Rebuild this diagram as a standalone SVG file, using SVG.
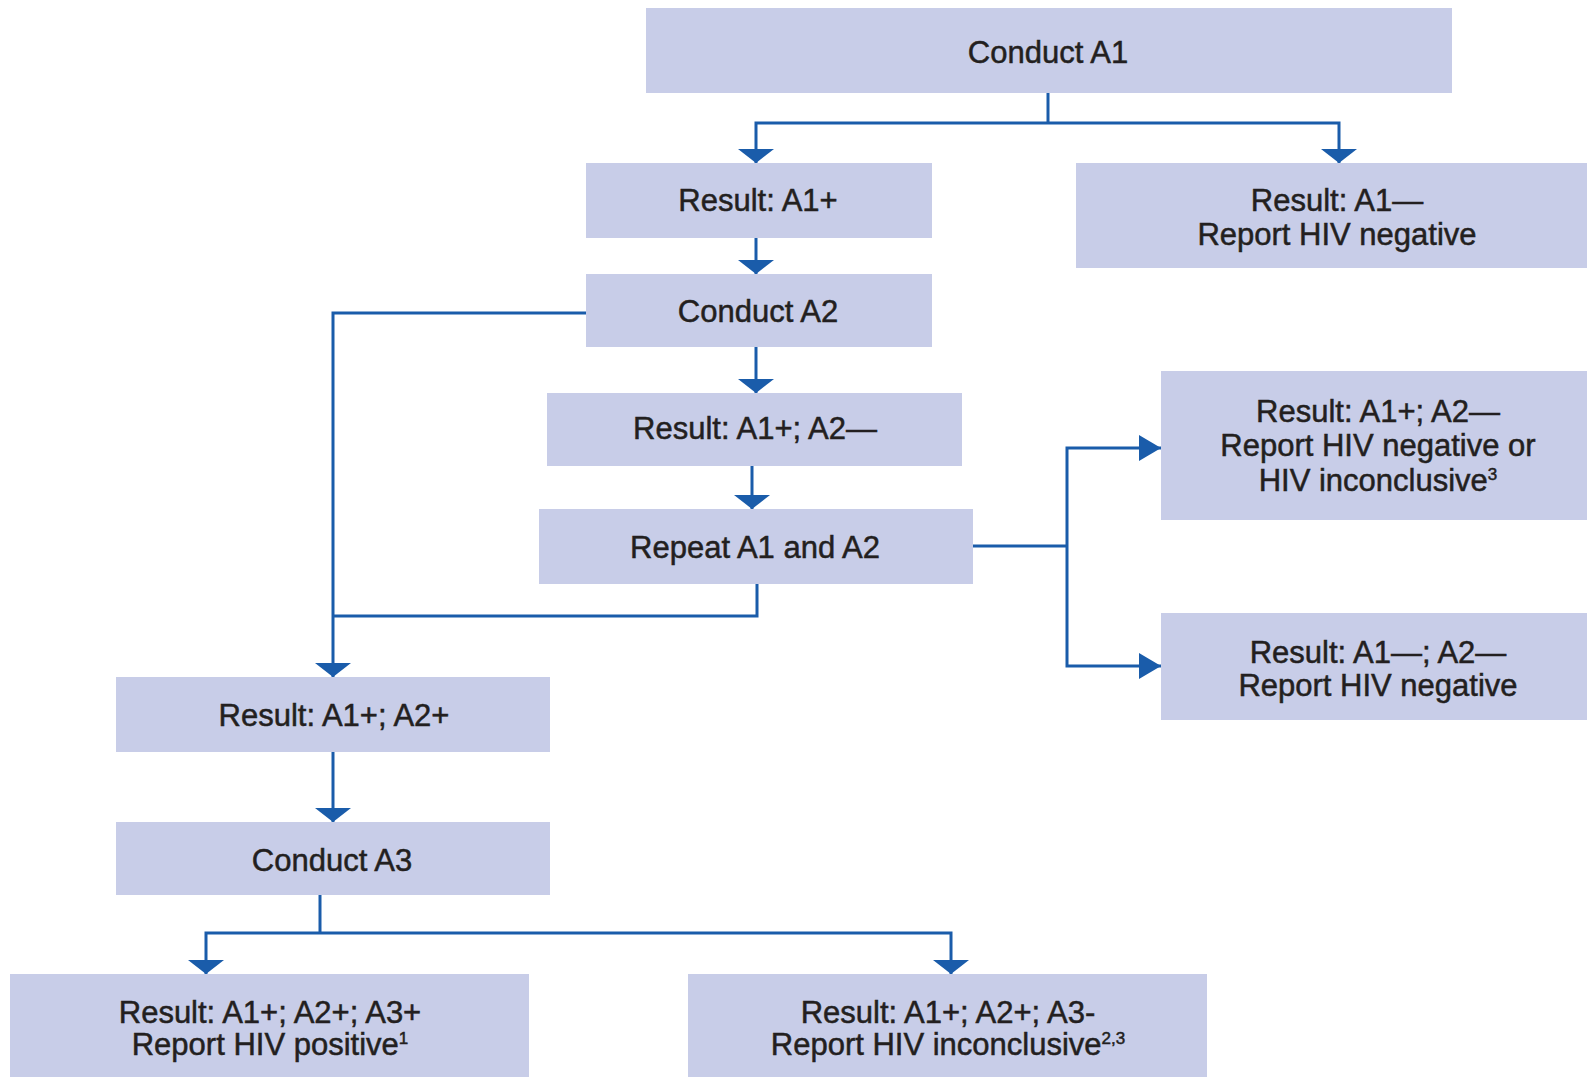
<svg xmlns="http://www.w3.org/2000/svg" width="1587" height="1077" viewBox="0 0 1587 1077">
<style>
.box{fill:#C8CDE8;}
.t{font-family:"Liberation Sans",Arial,sans-serif;font-size:31px;fill:#231F20;stroke:#231F20;stroke-width:0.5px;text-anchor:middle;}
.sup{font-size:17px;}
.c{fill:none;stroke:#1A5CAA;stroke-width:3;}
.d{marker-end:url(#down);}
.r{marker-end:url(#right);}
</style>
<defs>
<marker id="down" markerUnits="userSpaceOnUse" viewBox="0 0 14 36" refX="14" refY="18" markerWidth="14" markerHeight="36" orient="auto">
<path d="M0,0 L14,18 L0,36 z" fill="#1A5CAA"/>
</marker>
<marker id="right" markerUnits="userSpaceOnUse" viewBox="0 0 22 26" refX="22" refY="13" markerWidth="22" markerHeight="26" orient="auto">
<path d="M0,0 L22,13 L0,26 z" fill="#1A5CAA"/>
</marker>
</defs>
<rect width="1587" height="1077" fill="#FFFFFF"/>
<g id="connectors">
<path class="c" d="M1048,93 V123"/>
<path class="c d" d="M1048,123 H756 V163"/>
<path class="c d" d="M1048,123 H1339 V163"/>
<path class="c d" d="M756,238 V274"/>
<path class="c d" d="M756,347 V393"/>
<path class="c d" d="M752,466 V509"/>
<path class="c d" d="M586,313 H333 V677"/>
<path class="c" d="M757,584 V616 H333"/>
<path class="c" d="M973,546 H1067"/>
<path class="c r" d="M1067,546 V448 H1161"/>
<path class="c r" d="M1067,546 V666 H1161"/>
<path class="c d" d="M333,752 V822"/>
<path class="c" d="M320,895 V933"/>
<path class="c d" d="M320,933 H206 V974"/>
<path class="c d" d="M320,933 H951 V974"/>
</g>
<g id="n1"><rect class="box" x="646" y="8" width="806" height="85"/><text class="t" x="1048" y="63">Conduct A1</text></g>
<g id="n2"><rect class="box" x="586" y="163" width="346" height="75"/><text class="t" x="758" y="211">Result: A1+</text></g>
<g id="n3"><rect class="box" x="1076" y="163" width="511" height="105"/><text class="t" x="1337" y="211">Result: A1—</text><text class="t" x="1337" y="245">Report HIV negative</text></g>
<g id="n4"><rect class="box" x="586" y="274" width="346" height="73"/><text class="t" x="758" y="322">Conduct A2</text></g>
<g id="n5"><rect class="box" x="547" y="393" width="415" height="73"/><text class="t" x="755" y="439">Result: A1+; A2—</text></g>
<g id="n6"><rect class="box" x="539" y="509" width="434" height="75"/><text class="t" x="755" y="558">Repeat A1 and A2</text></g>
<g id="n7"><rect class="box" x="1161" y="371" width="426" height="149"/><text class="t" x="1378" y="422">Result: A1+; A2—</text><text class="t" x="1378" y="456">Report HIV negative or</text><text class="t" x="1378" y="491">HIV inconclusive<tspan class="sup" dy="-11">3</tspan></text></g>
<g id="n8"><rect class="box" x="1161" y="613" width="426" height="107"/><text class="t" x="1378" y="663">Result: A1—; A2—</text><text class="t" x="1378" y="696">Report HIV negative</text></g>
<g id="n9"><rect class="box" x="116" y="677" width="434" height="75"/><text class="t" x="334" y="726">Result: A1+; A2+</text></g>
<g id="n10"><rect class="box" x="116" y="822" width="434" height="73"/><text class="t" x="332" y="871">Conduct A3</text></g>
<g id="n11"><rect class="box" x="10" y="974" width="519" height="103"/><text class="t" x="270" y="1023">Result: A1+; A2+; A3+</text><text class="t" x="270" y="1055">Report HIV positive<tspan class="sup" dy="-11">1</tspan></text></g>
<g id="n12"><rect class="box" x="688" y="974" width="519" height="103"/><text class="t" x="948" y="1023">Result: A1+; A2+; A3-</text><text class="t" x="948" y="1055">Report HIV inconclusive<tspan class="sup" dy="-11">2,3</tspan></text></g>
</svg>
